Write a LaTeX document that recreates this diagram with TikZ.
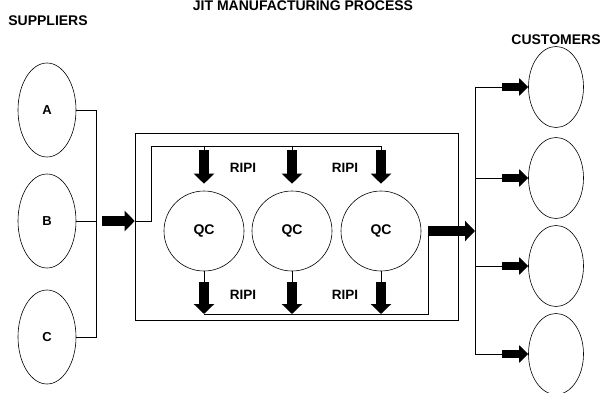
\documentclass[tikz,border=0pt]{standalone}
\usepackage{fontspec}
\setmainfont{Liberation Sans}
\usetikzlibrary{arrows.meta, shapes.geometric, calc, positioning}
\tikzset{
    wire/.style={line width=0.6pt},
    supplier/.style={ellipse, draw, wire, minimum width=58pt, minimum height=94pt, inner sep=0pt, font=\fontsize{13}{15}\selectfont\bfseries},
    customer/.style={ellipse, draw, wire, minimum width=55pt, minimum height=81pt, inner sep=0pt},
    qcNode/.style={circle, draw, wire, minimum size=80pt, inner sep=0pt, font=\fontsize{14}{16}\selectfont\bfseries},
    heading/.style={inner sep=0pt, font=\fontsize{14}{16}\selectfont\bfseries},
    tag/.style={inner sep=0pt, font=\fontsize{13.5}{15}\selectfont\bfseries},
    fatArrow/.style={line width=10pt, -{Triangle[length=10pt, width=20pt]}},
}
\newcommand{\fatLink}[3][]{
    \draw[fatArrow, #1] (#2) -- (#3);
}

\begin{document}
\begin{tikzpicture}[x=1pt, y=-1pt]
    \useasboundingbox (0,0) rectangle (605,393);

    % headings
    \node[heading] (supTitle) at (48,21) {SUPPLIERS};
    \node[heading] (jitTitle) at (303,6) {JIT MANUFACTURING PROCESS};
    \node[heading] (custTitle) at (556,40) {CUSTOMERS};

    % suppliers and their bus
    \node[supplier] (A) at (47,110) {A};
    \node[supplier] (B) at (47,221) {B};
    \node[supplier] (C) at (47,337) {C};
    \coordinate (sBus) at (96,110);
    \coordinate (arrIn) at (102,221);

    \draw[wire] (A.east) -- (sBus) |- (C.east);
    \draw[wire] (B.east) -- (B.east -| sBus);

    % plant box
    \node[draw, wire, minimum width=323pt, minimum height=187pt, inner sep=0pt] (plant) at (296.5,226.5) {};
    \coordinate (plantIn) at (plant.west |- arrIn);
    \fatLink{arrIn}{plantIn}

    % quality circles
    \node[qcNode] (q1) at (204,231) {QC};
    \node[qcNode] (q2) at (292,231) {QC};
    \node[qcNode] (q3) at (381,231) {QC};

    \node[tag] (ripiA) at (243,168) {RIPI};
    \node[tag] (ripiB) at (345,168) {RIPI};
    \node[tag] (ripiC) at (243,295) {RIPI};
    \node[tag] (ripiD) at (345,295) {RIPI};

    % feed line over the circles
    \coordinate (feedTop) at (151,146);
    \coordinate (feedEnd) at (381,146);
    \draw[wire] (plantIn) -| (feedTop) -- (feedEnd);
    \foreach \q in {q1,q2,q3}{
        \draw[wire] (\q |- feedTop) -- ++(0,4) coordinate (\q-feed);
        \draw[fatArrow] (\q-feed) -- ($(\q.north)+(0,-7)$);
    }

    % drain line under the circles
    \coordinate (drainEnd) at (428,314);
    \coordinate (outStart) at (428,231);
    \coordinate (outEnd) at (475,231);
    \foreach \q in {q1,q2,q3}{
        \draw[wire] (\q.south) -- ++(0,11) coordinate (\q-out);
        \draw[fatArrow] (\q-out) -- (\q-out |- drainEnd);
    }
    \draw[wire] (q1 |- drainEnd) -- (drainEnd) -- (outStart);
    \fatLink{outStart}{outEnd}

    % customers
    \node[customer] (c1) at (556,87) {};
    \node[customer] (c2) at (556,178) {};
    \node[customer] (c3) at (556,266) {};
    \node[customer] (c4) at (556,354) {};
    \coordinate (cBus) at (475,0);
    \coordinate (cArr) at (502,0);

    \draw[wire] (c1.west -| cBus) -- (c4.west -| cBus);
    \foreach \i in {1,...,4}{
        \draw[wire] (c\i.west -| cBus) -- (c\i.west -| cArr);
        \fatLink[line width=8pt, -{Triangle[length=9pt, width=17pt]}]{c\i.west -| cArr}{c\i.west}
    }

\end{tikzpicture}
\end{document}
